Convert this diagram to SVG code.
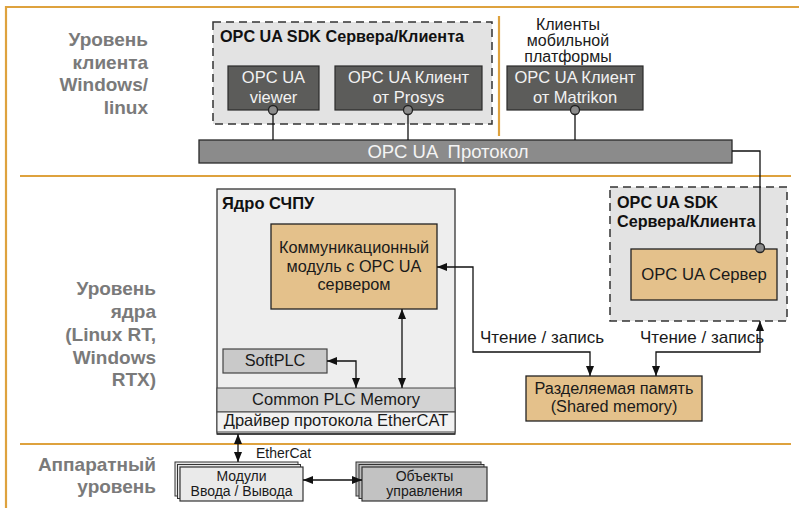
<svg xmlns="http://www.w3.org/2000/svg" width="799" height="508" viewBox="0 0 799 508">
<defs>
<marker id="ah" viewBox="0 0 10 8" refX="10" refY="4" markerWidth="10" markerHeight="8" markerUnits="userSpaceOnUse" orient="auto-start-reverse">
<path d="M0,0 L10,4 L0,8 Z" fill="#111"/>
</marker>
<style>
text{font-family:"Liberation Sans",Arial,sans-serif}
.lvl{font-size:19px;font-weight:bold;fill:#7a7a7a;text-anchor:end}
.ttl{font-size:16.2px;font-weight:bold;fill:#111}
.t{font-size:16.3px;fill:#1a1a1a;text-anchor:middle}
.ts{font-size:14px;fill:#1a1a1a;text-anchor:middle}
.tl{font-size:17px;fill:#1a1a1a}
.tm{font-size:16px;fill:#1a1a1a;text-anchor:middle}
.tw{font-size:16.5px;fill:#f2f2f2;text-anchor:middle}
.sdk{fill:#e3e3e3;stroke:#333;stroke-width:1.5;stroke-dasharray:8,5}
.dark{fill:#5c5c5a;stroke:#2a2a2a;stroke-width:1.2}
.tan{fill:#e4c18b;stroke:#222;stroke-width:1.3}
.orange{stroke:#dea23e;stroke-width:2.2;fill:none}
.ln{stroke:#111;stroke-width:1.3;fill:none}
.dot{fill:#8a8a8a;stroke:#222;stroke-width:1.3}
</style>
</defs>
<rect width="799" height="508" fill="#fff"/>

<g id="frame">
<path class="orange" d="M799,7 H6 V508"/>
<line class="orange" x1="20" y1="176" x2="791" y2="176"/>
<line class="orange" x1="20" y1="444" x2="791" y2="444"/>
<line class="orange" x1="499" y1="16" x2="499" y2="136"/>
</g>

<g id="level-labels">
<text class="lvl" x="148" y="46">Уровень</text>
<text class="lvl" x="148" y="68.5">клиента</text>
<text class="lvl" x="148" y="91">Windows/</text>
<text class="lvl" x="148" y="113.5">linux</text>
<text class="lvl" x="156" y="295">Уровень</text>
<text class="lvl" x="156" y="318">ядра</text>
<text class="lvl" x="156" y="341">(Linux RT,</text>
<text class="lvl" x="156" y="364">Windows</text>
<text class="lvl" x="156" y="386">RTX)</text>
<text class="lvl" x="156" y="471">Аппаратный</text>
<text class="lvl" x="156" y="493">уровень</text>
</g>

<g id="sdk-client">
<rect class="sdk" x="213" y="22" width="279" height="102"/>
<text class="ttl" x="220" y="42">OPC UA SDK Сервера/Клиента</text>
</g>

<g id="viewer">
<rect class="dark" x="228" y="66" width="91" height="44"/>
<text class="tw" x="273.5" y="83">OPC UA</text>
<text class="tw" x="273.5" y="103">viewer</text>
</g>

<g id="prosys">
<rect class="dark" x="335" y="66" width="147" height="44"/>
<text class="tw" x="408.5" y="83">OPC UA Клиент</text>
<text class="tw" x="408.5" y="103">от Prosys</text>
</g>

<g id="matrikon">
<text class="tm" x="568" y="30">Клиенты</text>
<text class="tm" x="568" y="46">мобильной</text>
<text class="tm" x="568" y="62">платформы</text>
<rect class="dark" x="507" y="66" width="136" height="44"/>
<text class="tw" x="575" y="83">OPC UA Клиент</text>
<text class="tw" x="575" y="103">от Matrikon</text>
</g>

<g id="protocol">
<rect x="199" y="140" width="533" height="23" fill="#8b8b8b" stroke="#2a2a2a" stroke-width="1.3"/>
<text x="448" y="157.5" style="font-size:18.5px;fill:#f4f4f4;text-anchor:middle;white-space:pre" xml:space="preserve">OPC UA  Протокол</text>
</g>

<g id="sdk-server">
<rect class="sdk" x="610" y="187" width="177" height="134"/>
<text class="ttl" x="617" y="208">OPC UA SDK</text>
<text class="ttl" x="617" y="227">Сервера/Клиента</text>
</g>

<g id="opcua-server">
<rect class="tan" x="631" y="249" width="146" height="51"/>
<text class="t" x="704" y="280" style="font-size:16.7px">OPC UA Сервер</text>
</g>

<g id="kernel">
<rect x="217" y="189" width="238" height="245" fill="#eeeeee" stroke="#333" stroke-width="1.3"/>
<text class="ttl" x="222" y="209" style="font-size:16.5px">Ядро СЧПУ</text>
</g>

<g id="comm-module">
<rect class="tan" x="271" y="224" width="166" height="85"/>
<text class="t" x="354" y="253">Коммуникационный</text>
<text class="t" x="354" y="271.5">модуль с OPC UA</text>
<text class="t" x="354" y="290">сервером</text>
</g>

<g id="softplc">
<rect x="223" y="349" width="104" height="24" fill="#c9c9c9" stroke="#444" stroke-width="1.2"/>
<text class="t" x="275" y="366">SoftPLC</text>
</g>

<g id="common-plc-memory">
<rect x="217" y="388" width="238" height="24" fill="#d3d3d3" stroke="#444" stroke-width="1"/>
<text class="t" x="336" y="404.5" style="font-size:16.5px">Common PLC Memory</text>
</g>

<g id="ethercat-driver">
<rect x="217" y="412" width="238" height="20" fill="#f2f2f2" stroke="#444" stroke-width="1"/>
<text class="t" x="336" y="426" style="font-size:16.5px">Драйвер протокола EtherCAT</text>
<line x1="217" y1="434" x2="455" y2="434" stroke="#333" stroke-width="1.3"/>
</g>

<g id="shared-memory">
<rect class="tan" x="526" y="376" width="176" height="45"/>
<text class="t" x="614" y="393.5">Разделяемая память</text>
<text class="t" x="614" y="412">(Shared memory)</text>
</g>

<g id="io-modules">
<rect x="175" y="462" width="123" height="34" fill="#e6e6e6" stroke="#333" stroke-width="1"/>
<rect x="177.5" y="464.5" width="123" height="34" fill="#e6e6e6" stroke="#333" stroke-width="1"/>
<rect x="180" y="467" width="123" height="34" fill="#eaeaea" stroke="#333" stroke-width="1.2"/>
<text class="ts" x="241.5" y="480.5">Модули</text>
<text class="ts" x="241.5" y="496">Ввода / Вывода</text>
</g>

<g id="control-objects">
<rect x="356" y="462" width="125" height="34" fill="#bdbdbd" stroke="#333" stroke-width="1"/>
<rect x="359" y="464.5" width="125" height="34" fill="#bdbdbd" stroke="#333" stroke-width="1"/>
<rect x="362" y="467" width="125" height="34" fill="#c2c2c2" stroke="#333" stroke-width="1.2"/>
<text class="ts" x="424.5" y="480.5">Объекты</text>
<text class="ts" x="424.5" y="496">управления</text>
</g>

<g id="connectors">
<line class="ln" x1="273" y1="114" x2="273" y2="140"/>
<line class="ln" x1="408" y1="114" x2="408" y2="140"/>
<line class="ln" x1="575" y1="114" x2="575" y2="140"/>
<circle class="dot" cx="273" cy="110" r="4.5"/>
<circle class="dot" cx="408" cy="110" r="4.5"/>
<circle class="dot" cx="575" cy="110" r="4.5"/>
<path class="ln" d="M732,151 H760 V244"/>
<circle class="dot" cx="760" cy="248" r="4.5"/>
<path class="ln" d="M437,267 H473 V352 H590 V376" marker-start="url(#ah)" marker-end="url(#ah)"/>
<path class="ln" d="M656,376 V352 H760 V321" marker-start="url(#ah)" marker-end="url(#ah)"/>
<text class="tl" x="480" y="343">Чтение / запись</text>
<text class="tl" x="640" y="343">Чтение / запись</text>
<path class="ln" d="M327,361 H356 V388" marker-start="url(#ah)" marker-end="url(#ah)"/>
<line class="ln" x1="402" y1="309" x2="402" y2="388" marker-start="url(#ah)" marker-end="url(#ah)"/>
<line class="ln" x1="238" y1="434" x2="238" y2="462" marker-start="url(#ah)" marker-end="url(#ah)"/>
<text x="256" y="458" style="font-size:14px;fill:#1a1a1a">EtherCat</text>
<line class="ln" x1="303" y1="480" x2="362" y2="480" marker-start="url(#ah)" marker-end="url(#ah)"/>
</g>
</svg>
